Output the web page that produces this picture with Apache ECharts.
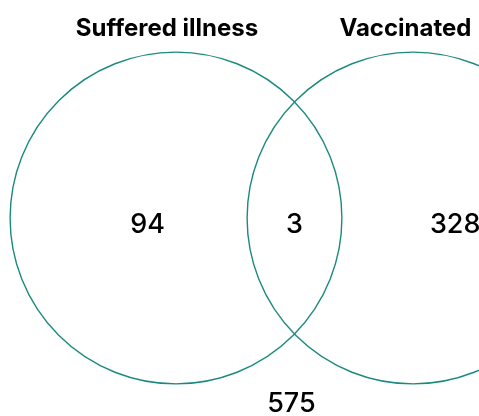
<!DOCTYPE html>
<html>
<head>
<meta charset="utf-8">
<script src="https://cdn.jsdelivr.net/npm/echarts@6/dist/echarts.min.js"></script>
<style>
html,body{margin:0;padding:0;background:#fff;}
#chart{width:479px;height:416px;}
</style>
</head>
<body>
<div id="chart"></div>
<script>
// Data
const setNames = ['Suffered illness', 'Vaccinated'];
const regionNames = ['Suffered illness only', 'Both', 'Vaccinated only', 'Neither'];
const regionCounts = [94, 3, 328, 575];

// Layout (data units of a hidden square-scaled cartesian plane)
const PX = 237;                 // pixels per unit
const circleCenters = [0, 1];   // set circle centres on x
const circleRadius = 0.7;
const titlePos = [[-0.038, 0.80], [0.968, 0.80]];
const regionPos = [[-0.12, -0.028], [0.5, -0.028], [1.178, -0.028], [0.487, -0.785]];

const chart = echarts.init(document.getElementById('chart'), null, {renderer: 'canvas'});
const FONT = 'Inter, Lato, sans-serif';

chart.setOption({
  animation: false,
  backgroundColor: '#ffffff',
  grid: {left: 0, right: 0, top: 0, bottom: 0},
  xAxis: {type: 'value', min: -176 / PX, max: 303 / PX, show: false},
  yAxis: {type: 'value', min: -198 / PX, max: 218 / PX, show: false},
  series: [
    {
      type: 'custom',
      coordinateSystem: 'cartesian2d',
      data: setNames.map((s, i) => [circleCenters[i], 0, s]),
      renderItem: function (params, api) {
        const c = api.coord([api.value(0), api.value(1)]);
        const r = api.size([circleRadius, 0])[0];
        return {
          type: 'circle',
          shape: {cx: c[0], cy: c[1], r: r},
          style: {fill: 'none', stroke: '#1b8a7e', lineWidth: 1.4}
        };
      },
      silent: true
    },
    {
      type: 'scatter',
      symbolSize: 0,
      itemStyle: {opacity: 1},
      data: setNames.map((s, i) => ({name: s, value: titlePos[i]})),
      label: {
        show: true, position: 'inside',
        formatter: p => p.name,
        fontFamily: FONT, fontWeight: 700, fontSize: 24, color: '#000000'
      },
      silent: true
    },
    {
      type: 'scatter',
      symbolSize: 0,
      itemStyle: {opacity: 1},
      data: regionCounts.map((v, i) => ({name: regionNames[i], value: [regionPos[i][0], regionPos[i][1], v]})),
      label: {
        show: true, position: 'inside',
        formatter: p => String(p.value[2]),
        fontFamily: FONT, fontWeight: 500, fontSize: 27, color: '#000000'
      },
      silent: true
    }
  ]
});
</script>
</body>
</html>
